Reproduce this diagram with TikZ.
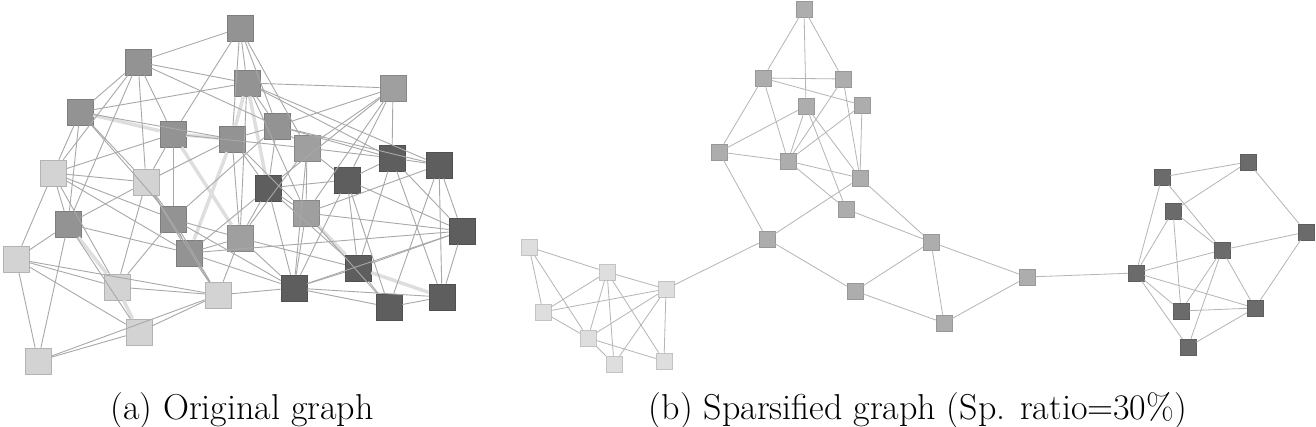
\documentclass[tikz,border=0pt]{standalone}
\usepackage{tikz}
\usetikzlibrary{calc}

\definecolor{nodeLight}{HTML}{D3D3D3}
\definecolor{nodeMid}{HTML}{939393}
\definecolor{nodeMidL}{HTML}{9F9F9F}
\definecolor{nodeDark}{HTML}{5E5E5E}
\definecolor{spLight}{HTML}{DEDEDE}
\definecolor{spMid}{HTML}{ADADAD}
\definecolor{spDark}{HTML}{6B6B6B}
\definecolor{edgeGray}{HTML}{A8A8A8}
\definecolor{edgeLight}{HTML}{DEDEDE}

\tikzset{
	big/.style={rectangle, minimum size=26pt, inner sep=0pt, line width=0.6pt, draw=#1!85!black, fill=#1},
	small/.style={rectangle, minimum size=16pt, inner sep=0pt, line width=0.5pt, draw=#1!88!black, fill=#1},
	link/.style={draw=edgeGray, line width=0.9pt},
	thinlink/.style={draw=edgeGray!85, line width=0.8pt},
	heavy/.style={draw=edgeLight, line width=3.5pt},
	caption/.style={anchor=base, inner sep=0pt, font=\fontsize{36}{40}\selectfont}
}

\begin{document}
\begin{tikzpicture}[x=1pt, y=-1pt]
		%%%%% START %%%%%
		\fill[white] (0,0) rectangle (1316,427);
		\useasboundingbox (0,0) rectangle (1316,427);
		
		% (a) original graph
		\node[big=nodeMid] (a1) at (240,28) {};
		\node[big=nodeMid] (a2) at (138,62) {};
		\node[big=nodeMid] (a3) at (247,83) {};
		\node[big=nodeMidL] (a4) at (393,88) {};
		\node[big=nodeMid] (a5) at (80,112) {};
		\node[big=nodeMid] (a6) at (173,134) {};
		\node[big=nodeMid] (a7) at (232,139) {};
		\node[big=nodeMid] (a8) at (277,126) {};
		\node[big=nodeMidL] (a9) at (307,148) {};
		\node[big=nodeLight] (a10) at (53,173) {};
		\node[big=nodeLight] (a11) at (146,182) {};
		\node[big=nodeDark] (a12) at (268,188) {};
		\node[big=nodeDark] (a13) at (347,180) {};
		\node[big=nodeDark] (a14) at (392,158) {};
		\node[big=nodeDark] (a15) at (439,165) {};
		\node[big=nodeMid] (a16) at (68,224) {};
		\node[big=nodeMid] (a17) at (173,219) {};
		\node[big=nodeMidL] (a18) at (240,238) {};
		\node[big=nodeMid] (a19) at (189,253) {};
		\node[big=nodeMidL] (a20) at (306,213) {};
		\node[big=nodeDark] (a21) at (462,231) {};
		\node[big=nodeLight] (a22) at (16,259) {};
		\node[big=nodeLight] (a23) at (117,287) {};
		\node[big=nodeLight] (a24) at (218,295) {};
		\node[big=nodeDark] (a25) at (294,288) {};
		\node[big=nodeDark] (a26) at (358,268) {};
		\node[big=nodeDark] (a27) at (389,307) {};
		\node[big=nodeDark] (a28) at (442,297) {};
		\node[big=nodeLight] (a29) at (139,332) {};
		\node[big=nodeLight] (a30) at (38,361) {};
		
		\foreach \i/\j in {5/6, 6/7, 6/18, 3/7, 7/19, 16/23, 23/29, 20/26, 26/28, 3/12}
			\draw[heavy] (a\i) -- (a\j);
		
		\foreach \i/\j in {1/2, 1/3, 1/6, 1/7, 1/8, 1/9,
			2/3, 2/5, 2/6, 2/8, 2/10, 2/11, 2/16,
			3/4, 3/5, 3/8, 3/14, 3/15, 3/18, 3/20,
			4/8, 4/9, 4/12, 4/13, 4/14, 4/20,
			5/7, 5/10, 5/11, 5/16, 5/17,
			6/9, 6/10, 6/11, 6/17,
			7/8, 7/11, 7/12, 7/18, 7/20,
			8/9, 8/12, 8/14, 8/15, 8/17,
			9/13, 9/14, 9/18, 9/20, 9/25,
			10/11, 10/16, 10/17, 10/19, 10/22, 10/23,
			11/16, 11/17, 11/19, 11/23, 11/24,
			12/13, 12/18, 12/19, 12/20, 12/25, 12/26,
			13/14, 13/21, 13/25, 13/26, 13/27,
			14/15, 14/21, 14/26, 14/28,
			15/20, 15/21, 15/27, 15/28,
			16/19, 16/22, 16/29, 16/30,
			17/18, 17/19, 17/23, 17/24, 17/25,
			18/19, 18/24, 18/25, 18/26,
			19/21, 19/24, 19/25,
			20/21, 20/25, 20/27,
			21/25, 21/26, 21/28,
			22/23, 22/24, 22/29, 22/30,
			23/24, 24/25, 24/29, 24/30,
			25/26, 25/27, 25/28, 26/27, 27/28, 29/30}
			\draw[link] (a\i) -- (a\j);
		
		% (b) sparsified graph
		\node[small=spMid] (b1) at (804,9) {};
		\node[small=spMid] (b2) at (763,78) {};
		\node[small=spMid] (b3) at (843,79) {};
		\node[small=spMid] (b4) at (806,106) {};
		\node[small=spMid] (b5) at (862,105) {};
		\node[small=spMid] (b6) at (719,152) {};
		\node[small=spMid] (b7) at (788,161) {};
		\node[small=spMid] (b8) at (860,178) {};
		\node[small=spMid] (b9) at (846,209) {};
		\node[small=spMid] (b10) at (767,239) {};
		\node[small=spMid] (b11) at (855,291) {};
		\node[small=spMid] (b12) at (931,242) {};
		\node[small=spMid] (b13) at (944,323) {};
		\node[small=spMid] (b14) at (1027,277) {};
		
		\node[small=spLight] (d1) at (529,247) {};
		\node[small=spLight] (d2) at (607,272) {};
		\node[small=spLight] (d3) at (666,289) {};
		\node[small=spLight] (d4) at (543,312) {};
		\node[small=spLight] (d5) at (588,338) {};
		\node[small=spLight] (d6) at (614,364) {};
		\node[small=spLight] (d7) at (664,361) {};
		
		\node[small=spDark] (c1) at (1248,162) {};
		\node[small=spDark] (c2) at (1162,177) {};
		\node[small=spDark] (c3) at (1173,211) {};
		\node[small=spDark] (c4) at (1306,232) {};
		\node[small=spDark] (c5) at (1222,250) {};
		\node[small=spDark] (c6) at (1136,273) {};
		\node[small=spDark] (c7) at (1181,311) {};
		\node[small=spDark] (c8) at (1255,308) {};
		\node[small=spDark] (c9) at (1188,347) {};
		
		\foreach \i/\j in {1/2, 1/3, 1/4, 2/3, 2/5, 2/6, 2/7, 3/7, 3/8, 4/6, 4/7, 4/8, 4/9,
			5/7, 5/8, 6/7, 6/10, 7/8, 7/9, 8/10, 8/12, 9/12, 10/11, 11/12, 11/13,
			12/13, 12/14, 13/14}
			\draw[thinlink] (b\i) -- (b\j);
		\foreach \i/\j in {1/2, 1/4, 1/5, 2/3, 2/4, 2/5, 2/6, 2/7, 3/4, 3/5, 3/6, 3/7,
			4/5, 5/6, 5/7}
			\draw[thinlink] (d\i) -- (d\j);
		\foreach \i/\j in {1/2, 1/3, 1/4, 2/5, 2/6, 3/5, 3/6, 3/7, 4/5, 4/8, 5/6, 5/7,
			5/8, 5/9, 6/7, 6/8, 6/9, 7/8, 8/9}
			\draw[thinlink] (c\i) -- (c\j);
		\draw[thinlink] (b10) -- (d3);
		\draw[thinlink] (b14) -- (c6);
		
		% captions
		\node[caption] (capa) at (242,419) {(a) Original graph};
		\node[caption] (capb) at (918,419) {(b) Sparsified graph (Sp. ratio=30\%)};
		%%%%% END %%%%%
\end{tikzpicture}
\end{document}
